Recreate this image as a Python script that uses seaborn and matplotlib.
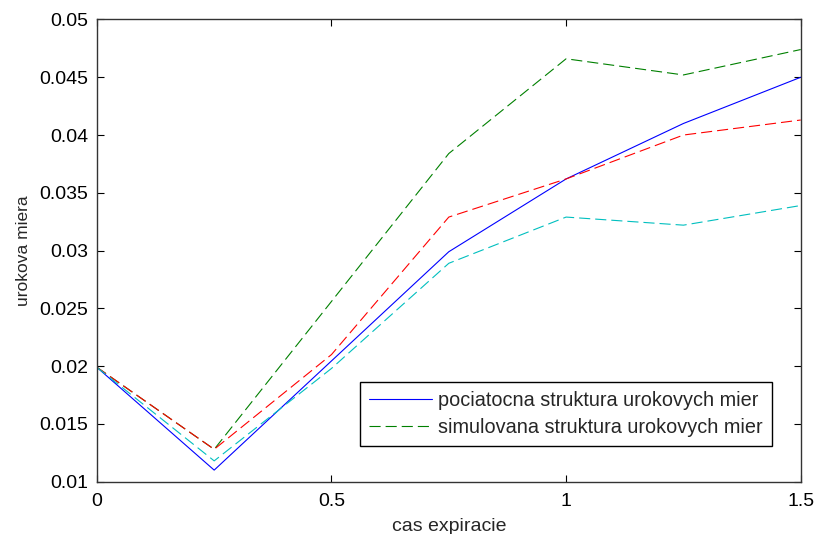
import matplotlib
matplotlib.use("Agg")
import matplotlib.pyplot as plt
import seaborn as sns
import pandas as pd

# expiration times and rates
cas = [0, 0.25, 0.5, 0.75, 1.0, 1.25, 1.5]
pociatocna = [0.0199, 0.0110, 0.02045, 0.0299, 0.0362, 0.0410, 0.0450]
simulovana = [0.0199, 0.0128, 0.0256, 0.0384, 0.0466, 0.0452, 0.0474]
horna = [0.0199, 0.0128, 0.0210, 0.0329, 0.0362, 0.0400, 0.0413]
dolna = [0.0199, 0.0118, 0.0198, 0.0289, 0.0329, 0.0322, 0.0339]

x_ticks = [0, 0.5, 1, 1.5]
y_ticks = [0.01, 0.015, 0.02, 0.025, 0.03, 0.035, 0.04, 0.045, 0.05]
legend_labels = ["pociatocna struktura urokovych mier",
                 "simulovana struktura urokovych mier"]

sns.set_style("white")
plt.rcParams["font.family"] = ["Liberation Sans", "DejaVu Sans"]
plt.rcParams["lines.scale_dashes"] = False

fig = plt.figure(figsize=(8.14, 5.34), dpi=100)
ax = fig.add_axes([0.119, 0.098, 0.8647, 0.8655])

series = [
    (pociatocna, "#0000FF", ""),
    (simulovana, "#008000", (8, 3.6)),
    (horna, "#FF0000", (8, 3.6)),
    (dolna, "#00BFBF", (8, 3.6)),
]
for vals, col, dash in series:
    df = pd.DataFrame({"cas": cas, "miera": vals})
    sns.lineplot(data=df, x="cas", y="miera", color=col, linewidth=0.8, ax=ax)
    if dash:
        ax.lines[-1].set_dashes(dash)

ax.set_xlim(0, 1.5)
ax.set_ylim(0.01, 0.05)
ax.set_xticks(x_ticks)
ax.set_xticklabels(["%g" % t for t in x_ticks])
ax.set_yticks(y_ticks)
ax.set_yticklabels(["%g" % t for t in y_ticks])
ax.tick_params(direction="in", length=5, width=0.8, labelsize=14, colors="black",
               top=True, right=True, bottom=True, left=True)
ax.tick_params(axis="x", pad=8)
ax.tick_params(axis="y", pad=6)
for s in ax.spines.values():
    s.set_visible(True)
    s.set_color("#333333")
    s.set_linewidth(1.0)

ax.set_xlabel("cas expiracie", fontsize=14, labelpad=6)
ax.set_ylabel("urokova miera", fontsize=12.5, labelpad=6)

leg = ax.legend(ax.lines[:2], legend_labels, loc="lower right",
                bbox_to_anchor=(0.959, 0.077), borderaxespad=0, fontsize=14.3,
                frameon=True, fancybox=False, edgecolor="black", framealpha=1,
                handlelength=3.2, handletextpad=0.3, borderpad=0.45,
                labelspacing=0.4)
leg.get_frame().set_linewidth(1.0)

fig.savefig("out.png", dpi=100)
